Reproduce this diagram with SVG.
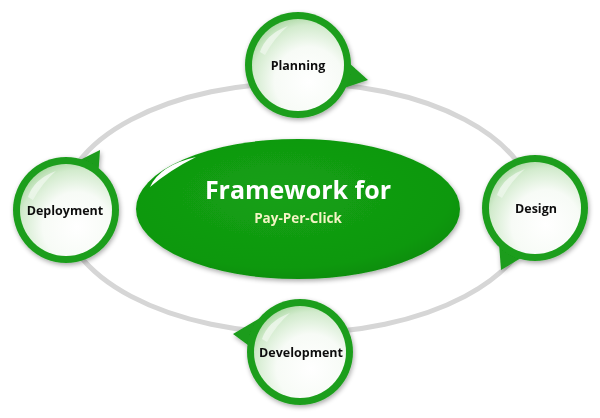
<svg xmlns="http://www.w3.org/2000/svg" width="600" height="418" viewBox="0 0 600 418">
<defs>
<radialGradient id="inner" cx="0.62" cy="0.68" r="0.75">
<stop offset="0" stop-color="#ffffff"/>
<stop offset="0.5" stop-color="#f7fbf6"/>
<stop offset="0.82" stop-color="#d2ebcd"/>
<stop offset="1" stop-color="#a3d59a"/>
</radialGradient>
<linearGradient id="gloss" x1="0" y1="0" x2="1" y2="1">
<stop offset="0" stop-color="#ffffff" stop-opacity="0.95"/>
<stop offset="1" stop-color="#ffffff" stop-opacity="0"/>
</linearGradient>
<radialGradient id="big" cx="0.45" cy="0.4" r="0.65">
<stop offset="0" stop-color="#14a014"/>
<stop offset="0.8" stop-color="#0f980f"/>
<stop offset="1" stop-color="#0a8a0a"/>
</radialGradient>
<filter id="sh" x="-20%" y="-20%" width="140%" height="140%">
<feGaussianBlur in="SourceAlpha" stdDeviation="2.5"/>
<feOffset dx="1" dy="2"/>
<feComponentTransfer><feFuncA type="linear" slope="0.35"/></feComponentTransfer>
<feMerge><feMergeNode/><feMergeNode in="SourceGraphic"/></feMerge>
</filter>
<style>
.ring{fill:#1d9e1d}
.face{fill:url(#inner)}
.tail{fill:#1a9c1a}
.lbl{font-family:"Open Sans","Liberation Sans",sans-serif;font-weight:bold;font-size:12.5px;fill:#111;text-anchor:middle}
</style>
</defs>
<rect width="600" height="418" fill="#ffffff"/>
<g id="connectors">
<ellipse cx="298" cy="208" rx="236" ry="125" fill="none" stroke="#d6d6d6" stroke-width="5"/>
</g>
<g id="center" filter="url(#sh)">
<ellipse cx="298" cy="209" rx="162" ry="70" fill="url(#big)"/>
<path d="M150 187 Q160 165 196 157 Q170 170 150 187 Z" fill="#ffffff"/>
<text x="298" y="199" text-anchor="middle" font-family="'Open Sans','Liberation Sans',sans-serif" font-weight="bold" font-size="25" fill="#ffffff">Framework for</text>
<text x="298" y="223" text-anchor="middle" font-family="'Open Sans','Liberation Sans',sans-serif" font-weight="bold" font-size="13.5" fill="#f4f4c4">Pay-Per-Click</text>
</g>
<g id="planning" filter="url(#sh)">
<path class="tail" d="M338 90 L368 80 L348 62 Z"/>
<circle class="ring" cx="298" cy="65" r="53"/>
<circle class="face" cx="298" cy="65" r="46"/>
<path d="M260 52 Q266 34 288 26 Q274 38 265 55 Z" fill="url(#gloss)"/>
<text class="lbl" x="298" y="70">Planning</text>
</g>
<g id="design" filter="url(#sh)">
<path class="tail" d="M498 230 L501 270 L526 255 Z"/>
<circle class="ring" cx="535" cy="208" r="53"/>
<circle class="face" cx="535" cy="208" r="46"/>
<path d="M497 195 Q503 177 525 169 Q511 181 502 198 Z" fill="url(#gloss)"/>
<text class="lbl" x="536" y="213">Design</text>
</g>
<g id="development" filter="url(#sh)">
<path class="tail" d="M260 318 L233 334 L252 348 Z"/>
<circle class="ring" cx="300" cy="352" r="53"/>
<circle class="face" cx="300" cy="352" r="46"/>
<path d="M262 339 Q268 321 290 313 Q276 325 267 342 Z" fill="url(#gloss)"/>
<text class="lbl" x="301" y="357">Development</text>
</g>
<g id="deployment" filter="url(#sh)">
<path class="tail" d="M80 160 L100 150 L98 178 Z"/>
<circle class="ring" cx="66" cy="210" r="53"/>
<circle class="face" cx="66" cy="210" r="46"/>
<path d="M28 197 Q34 179 56 171 Q42 183 33 200 Z" fill="url(#gloss)"/>
<text class="lbl" x="65" y="215">Deployment</text>
</g>
</svg>
